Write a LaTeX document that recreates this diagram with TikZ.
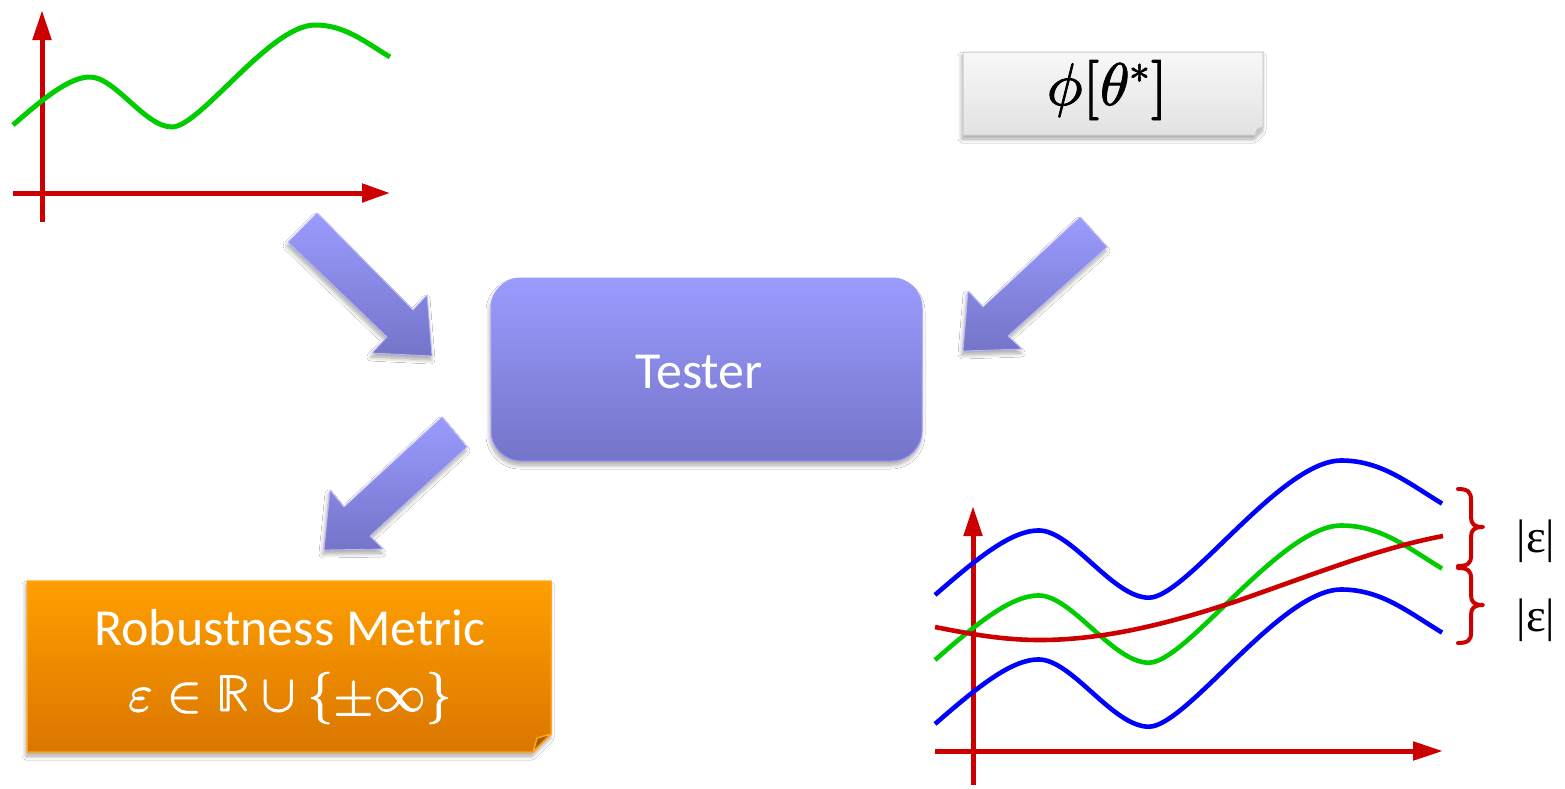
\documentclass[tikz,border=0pt]{standalone}
\usepackage{fontspec}
\usepackage{unicode-math}
\setmathfont[FakeBold=1.6]{latinmodern-math.otf}
\setsansfont{Carlito}
\newfontfamily\timesfont{Liberation Serif}
\usetikzlibrary{arrows.meta,shadows.blur}
\definecolor{axred}{HTML}{CC0000}
\definecolor{wgreen}{HTML}{00CC00}
\definecolor{wblue}{HTML}{0000FF}
\definecolor{blueTop}{HTML}{9B9BFF}
\definecolor{blueBot}{HTML}{7474C8}
\definecolor{orTop}{HTML}{FF9F00}
\definecolor{orBot}{HTML}{DA7600}
\definecolor{orEdge}{HTML}{FFA41C}
\definecolor{orFold}{HTML}{A85E00}
\definecolor{grTop}{HTML}{F8F8F8}
\definecolor{grBot}{HTML}{E2E2E2}
\tikzset{
  axisline/.style={line width=5pt, draw=axred, -{Triangle[length=30pt,width=18pt]}},
  wave/.style={line width=5pt},
  wavepath/.style={insert path={(0,0) .. controls (32,-28) and (57,-48) .. (77,-48)
     .. controls (102,-48) and (132,2) .. (159,2)
     .. controls (187,2) and (257,-100) .. (302,-100)
     .. controls (332,-100) and (352,-83) .. (377,-68)}},
  softshadow/.style={blur shadow={shadow xshift=-1pt, shadow yshift=-4pt, shadow blur steps=8, shadow blur radius=4pt, shadow opacity=35}},
  blockarrow/.style={top color=blueTop, bottom color=blueBot, draw=blueTop!70!white, line width=0.8pt, softshadow},
  bracepath/.style={draw=axred, line width=4pt, line cap=round},
  epslabel/.style={font=\timesfont\fontsize{47}{50}\selectfont, anchor=base, inner sep=0pt},
  whitetext/.style={text=white, font=\sffamily\fontsize{52}{60}\selectfont, anchor=base, inner sep=0pt},
}
\begin{document}
\begin{tikzpicture}[x=1pt,y=-1pt,line join=round]
\useasboundingbox (0,0) rectangle (1565,788);
\fill[white] (0,0) rectangle (1565,788);

% ---------- top-left plot ----------
\coordinate (tlyb) at (42,222); \coordinate (tlyt) at (42,10);
\coordinate (tlxl) at (13,193); \coordinate (tlxr) at (390,193);
\draw[axisline] (tlyb) -- (tlyt);
\draw[axisline, -{Triangle[length=28pt,width=18pt]}] (tlxl) -- (tlxr);
\draw[wave, wgreen, shift={(13,125)}, wavepath];

% ---------- block arrows ----------
\path[blockarrow] (317,213) -- (413,310) -- (427,295) -- (432,356) -- (372,353) -- (387,337) -- (288,242) -- cycle;
\path[blockarrow] (1080,217) -- (983,307) -- (968,291) -- (963,351) -- (1022,349) -- (1008,336) -- (1107,247) -- cycle;
\path[blockarrow] (442,417) -- (344,507) -- (330,490) -- (324,550) -- (383,549) -- (370,536) -- (467,447) -- cycle;

% ---------- phi box ----------
\path[top color=grTop, bottom color=grBot, draw=black!20, line width=1pt, softshadow]
  (963,52) -- (1263,52) -- (1263,127) -- (1255,135) -- (963,135) -- cycle;
\filldraw[fill=black!25, draw=black!20, line width=0.8pt] (1255,135) -- (1263,127) -- (1257,129) -- cycle;
\node[anchor=base, inner sep=0pt, font=\fontsize{60}{66}\selectfont] (phi) at (1107,105) {$\phi[\theta^*]$};

% ---------- Tester ----------
\node[rectangle, rounded corners=30pt, minimum width=431pt, minimum height=183pt,
      top color=blueTop, bottom color=blueBot, draw=blueTop, line width=1pt, softshadow] (tester) at (706.5,369.5) {};
\node[whitetext] (testerlabel) at (699,388) {Tester};

% ---------- Robustness metric box ----------
\path[top color=orTop, bottom color=orBot, draw=orEdge, line width=1.5pt, softshadow]
  (27,581) -- (551,581) -- (551,734) -- (533,752) -- (27,752) -- cycle;
\filldraw[fill=orFold, draw=orEdge, line width=1.5pt] (533,752) -- (551,734) -- (537,738) -- cycle;
\node[whitetext] (metric1) at (290,645) {Robustness Metric};
\node[whitetext] (metric2) at (290,711) {$\varepsilon\in\mathbb{R}\cup\{\pm\infty\}$};

% ---------- bottom-right plot ----------
\coordinate (bryb) at (973,785); \coordinate (bryt) at (973,506);
\coordinate (brxl) at (935,751); \coordinate (brxr) at (1443,751);
\draw[axisline] (bryb) -- (bryt);
\draw[axisline] (brxl) -- (brxr);
\draw[wave, line width=4.6pt, wblue, shift={(935,595)}, scale=1.345, wavepath];
\draw[wave, line width=4.6pt, wblue, shift={(935,724)}, scale=1.345, wavepath];
\draw[wave, line width=4.6pt, wgreen, shift={(935,660)}, scale=1.345, wavepath];
\draw[wave, line width=4.6pt, axred] (935,627) .. controls (975,635) and (1005,640) .. (1040,640)
   .. controls (1110,640) and (1180,620) .. (1240,600) .. controls (1320,572) and (1380,548) .. (1443,536);

% ---------- braces ----------
\draw[bracepath] (1458,489) .. controls (1468,489) and (1471,492) .. (1471,500) -- (1471,517)
   .. controls (1471,524) and (1474,527) .. (1483,527) .. controls (1474,527) and (1471,530) .. (1471,537)
   -- (1471,556) .. controls (1471,563) and (1468,566) .. (1458,566);
\draw[bracepath] (1458,568) .. controls (1468,568) and (1471,571) .. (1471,578) -- (1471,595)
   .. controls (1471,602) and (1474,605) .. (1483,605) .. controls (1474,605) and (1471,608) .. (1471,615)
   -- (1471,633) .. controls (1471,640) and (1468,643) .. (1458,643);
\node[epslabel] (eps1) at (1536,552) {|ε|};
\node[epslabel] (eps2) at (1536,631) {|ε|};
\end{tikzpicture}
\end{document}
